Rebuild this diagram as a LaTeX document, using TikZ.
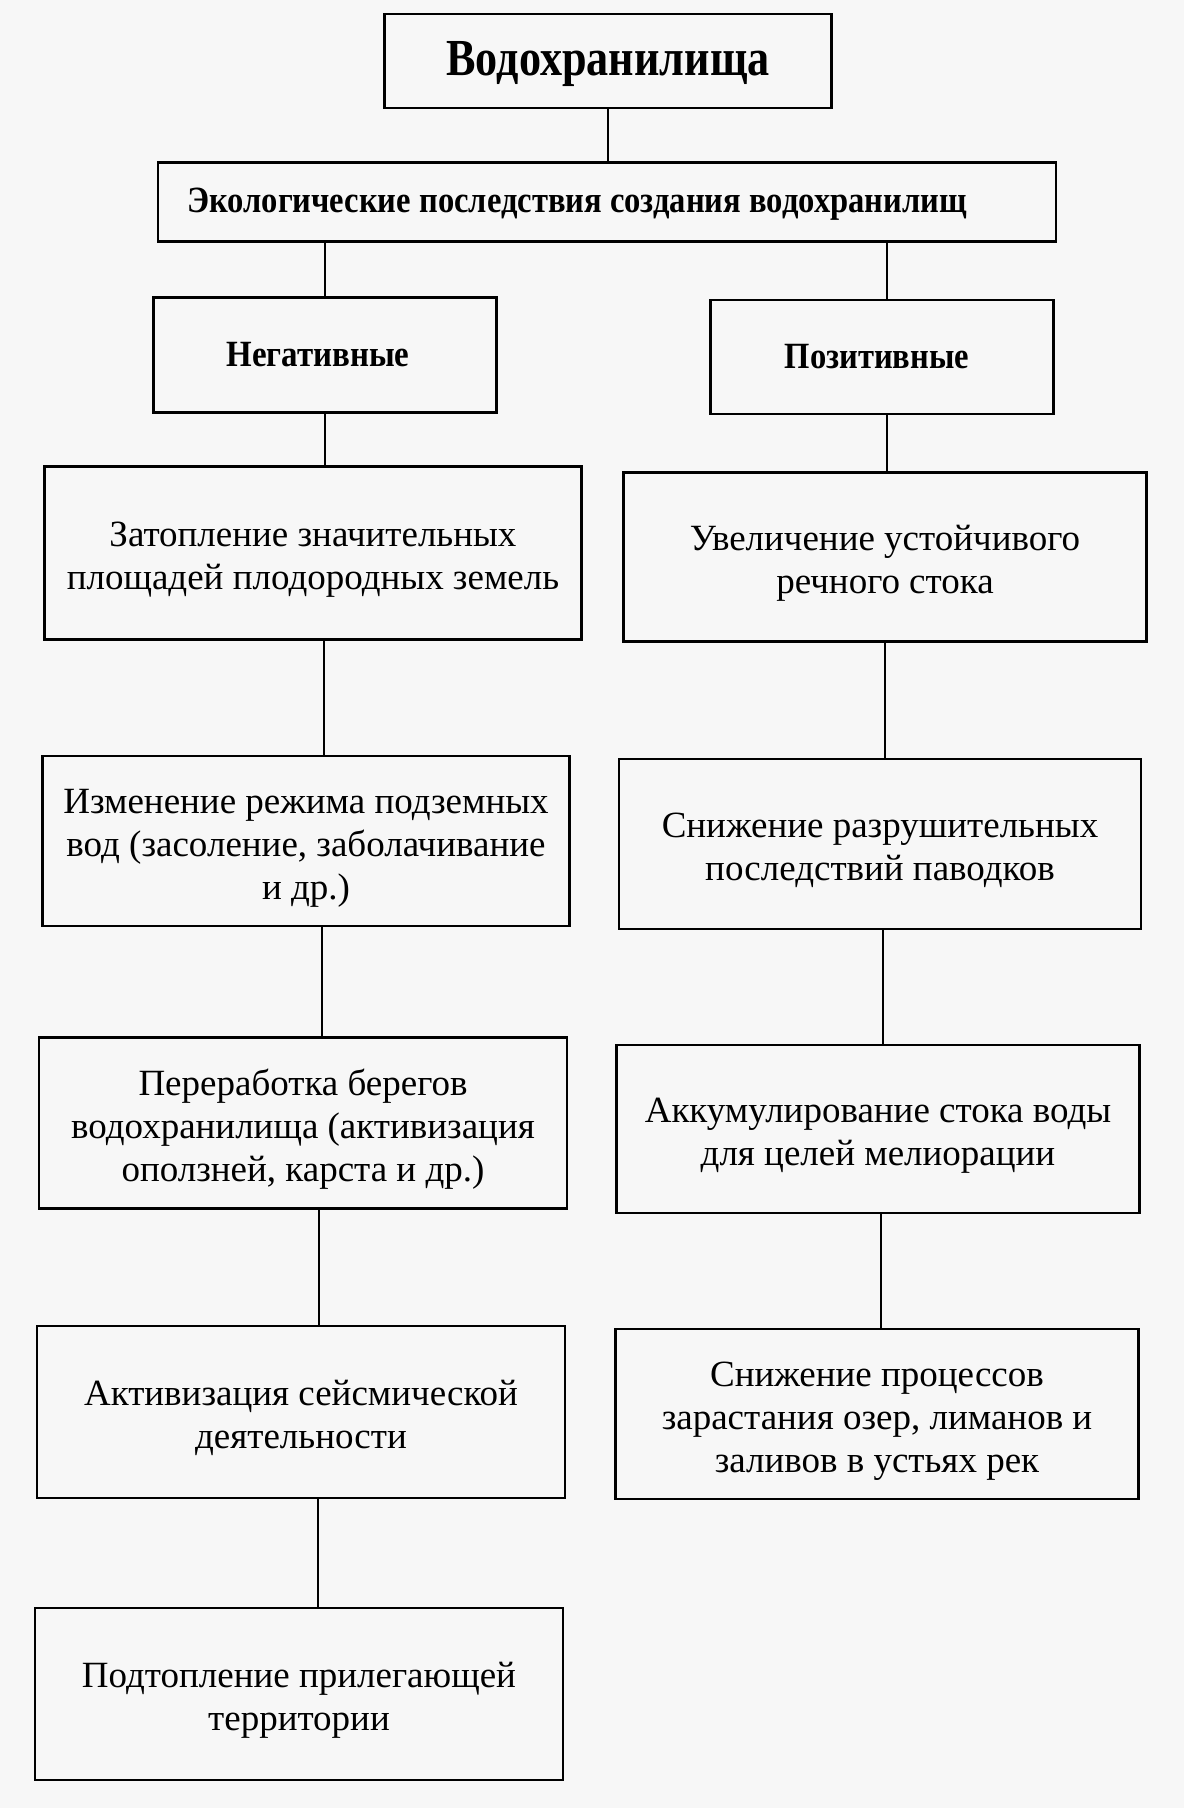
\documentclass[tikz,border=0pt]{standalone}
\usepackage{fontspec}
\setmainfont{Liberation Serif}
\newcommand{\boxtext}[1]{\raisebox{0pt}[\dimexpr\height+13pt\relax][\depth]{\begin{tabular}{@{}c@{}}#1\end{tabular}}}
\begin{document}
\begin{tikzpicture}[x=1pt,y=-1pt,
  box/.style={draw, line width=2.3pt, inner sep=0pt, align=center,
    font=\fontsize{37}{43}\selectfont},
  conn/.style={line width=2.1pt}]
\fill[gray!6] (0,0) rectangle (1184,1808);
\useasboundingbox (0,0) rectangle (1184,1808);

\node[box, minimum width=447, minimum height=94] (top) at (608,61)
  {\raisebox{0pt}[\dimexpr\height+6pt\relax][\depth]{\scalebox{0.85}[1]{\fontsize{52}{52}\selectfont\bfseries Водохранилища}}};
\node[box, minimum width=898, minimum height=79] (eco) at (607,202)
  {\raisebox{0pt}[\dimexpr\height+5pt\relax][\depth]{\kern-60pt\scalebox{0.88}[1]{\fontsize{37}{40}\selectfont\bfseries Экологические последствия создания водохранилищ}}};
\node[box, minimum width=343, minimum height=115] (neg) at (325,355)
  {\kern-14pt\scalebox{0.89}[1]{\fontsize{37}{40}\selectfont\bfseries Негативные}};
\node[box, minimum width=343, minimum height=114] (pos) at (882,357)
  {\kern-10pt\scalebox{0.88}[1]{\fontsize{37}{40}\selectfont\bfseries Позитивные}};

\node[box, minimum width=537, minimum height=173] (zat) at (313,553)
  {\boxtext{Затопление значительных\\площадей плодородных земель}};
\node[box, minimum width=523, minimum height=169] (uvel) at (885,557)
  {\boxtext{Увеличение устойчивого\\речного стока}};
\node[box, minimum width=527, minimum height=170] (izm) at (306,841)
  {\boxtext{Изменение режима подземных\\вод (засоление, заболачивание\\и др.)}};
\node[box, minimum width=522, minimum height=170] (sniz) at (880,844)
  {\boxtext{Снижение разрушительных\\последствий паводков}};
\node[box, minimum width=528, minimum height=171] (per) at (303,1123)
  {\boxtext{Переработка берегов\\водохранилища (активизация\\оползней, карста и др.)}};
\node[box, minimum width=523, minimum height=168] (akk) at (878,1129)
  {\boxtext{Аккумулирование стока воды\\для целей мелиорации}};
\node[box, minimum width=528, minimum height=172] (akt) at (301,1412)
  {\boxtext{Активизация сейсмической\\деятельности}};
\node[box, minimum width=523, minimum height=170] (snp) at (877,1414)
  {\boxtext{Снижение процессов\\зарастания озер, лиманов и\\заливов в устьях рек}};
\node[box, minimum width=528, minimum height=172] (pod) at (299,1694)
  {\boxtext{Подтопление прилегающей\\территории}};

\draw[conn] (top.south) -- (top.south |- eco.north);
\draw[conn] (neg.north) -- (neg.north |- eco.south);
\draw[conn] ([xshift=5pt]pos.north) -- ([xshift=5pt]pos.north |- eco.south);
\draw[conn] (neg.south) -- (neg.south |- zat.north);
\draw[conn] ([xshift=11pt]zat.south) -- ([xshift=11pt]zat.south |- izm.north);
\draw[conn] ([xshift=16pt]izm.south) -- ([xshift=16pt]izm.south |- per.north);
\draw[conn] ([xshift=16pt]per.south) -- ([xshift=16pt]per.south |- akt.north);
\draw[conn] ([xshift=17pt]akt.south) -- ([xshift=17pt]akt.south |- pod.north);
\draw[conn] ([xshift=5pt]pos.south) -- ([xshift=5pt]pos.south |- uvel.north);
\draw[conn] (uvel.south) -- (uvel.south |- sniz.north);
\draw[conn] ([xshift=3pt]sniz.south) -- ([xshift=3pt]sniz.south |- akk.north);
\draw[conn] ([xshift=3pt]akk.south) -- ([xshift=3pt]akk.south |- snp.north);
\end{tikzpicture}
\end{document}
